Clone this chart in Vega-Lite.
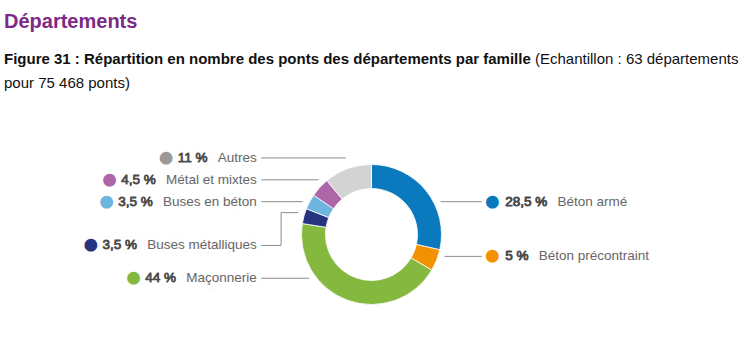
{
  "$schema": "https://vega.github.io/schema/vega-lite/v6.json",
  "background": "white",
  "padding": {"left": 4, "top": 12, "right": 0, "bottom": 0},
  "config": {"view": {"stroke": null}, "font": "Liberation Sans"},
  "title": {"text": "Départements", "anchor": "start", "fontSize": 20, "fontWeight": "bold", "color": "#7d2a86", "font": "Liberation Sans", "offset": 20},
  "datasets": {
    "familles": [
      {"famille": "Béton armé", "part": 28.5, "ordre": 1},
      {"famille": "Béton précontraint", "part": 5, "ordre": 2},
      {"famille": "Maçonnerie", "part": 44, "ordre": 3},
      {"famille": "Buses métalliques", "part": 3.5, "ordre": 4},
      {"famille": "Buses en béton", "part": 3.5, "ordre": 5},
      {"famille": "Métal et mixtes", "part": 4.5, "ordre": 6},
      {"famille": "Autres", "part": 11, "ordre": 7}
    ]
  },
  "spacing": 55,
  "vconcat": [
    {
      "spacing": 4,
      "hconcat": [
        {
          "width": 1, "height": 1,
          "data": {"values": []},
          "mark": "text",
          "encoding": {},
          "title": {"text": "Figure 31 : Répartition en nombre des ponts des départements par famille", "subtitle": "pour 75 468 ponts)", "anchor": "start", "font": "Liberation Sans", "fontSize": 15, "fontWeight": "bold", "color": "#111111", "subtitleFont": "Liberation Sans", "subtitleFontSize": 15, "subtitleColor": "#111111", "subtitlePadding": 9, "offset": 0}
        },
        {
          "width": 1, "height": 1,
          "data": {"values": []},
          "mark": "text",
          "encoding": {},
          "title": {"text": "(Echantillon : 63 départements", "subtitle": " ", "anchor": "start", "font": "Liberation Sans", "fontSize": 15, "fontWeight": "normal", "color": "#111111", "subtitleFont": "Liberation Sans", "subtitleFontSize": 15, "subtitleColor": "#111111", "subtitlePadding": 9, "offset": 0}
        }
      ]
    },
    {
      "width": 735,
      "height": 175,
      "data": {"name": "familles"},
      "transform": [
        {"calculate": "replace(format(datum.part, '.1~f'), '.', ',') + '\u00a0%'", "as": "pct"},
        {"calculate": "datum.pct + '\u00a0\u00a0\u2009' + datum.famille", "as": "texte"},
        {"calculate": "'●\u00a0\u00a0' + datum.texte", "as": "texte_point"}
      ],
      "layer": [
        {
          "transform": [{"filter": "datum.ordre >= 3 && datum.famille != 'Buses métalliques'"}],
          "mark": {"type": "rule", "color": "#8c8c8c", "strokeWidth": 1},
          "encoding": {
            "x": {"datum": -0.3, "type": "quantitative", "scale": {"domain": [-1, 1], "nice": false, "zero": false}, "axis": null},
            "x2": {"datum": -0.07},
            "y": {"field": "famille", "type": "nominal", "scale": {"type": "point", "domain": ["Autres", "g1", "Métal et mixtes", "g3", "Buses en béton", "g5", "g6", "g7", "Buses métalliques", "g9", "g10", "Maçonnerie", "g12", "g13", "g14"], "padding": 1}, "axis": null}
          }
        },
        {
          "transform": [{"filter": "datum.famille == 'Buses métalliques'"}],
          "mark": {"type": "rule", "color": "#8c8c8c", "strokeWidth": 1},
          "encoding": {
            "x": {"datum": -0.3, "type": "quantitative", "scale": {"domain": [-1, 1], "nice": false, "zero": false}, "axis": null},
            "x2": {"datum": -0.246},
            "y": {"field": "famille", "type": "nominal", "scale": {"type": "point", "domain": ["Autres", "g1", "Métal et mixtes", "g3", "Buses en béton", "g5", "g6", "g7", "Buses métalliques", "g9", "g10", "Maçonnerie", "g12", "g13", "g14"], "padding": 1}, "axis": null}
          }
        },
        {
          "transform": [{"filter": "datum.famille == 'Buses métalliques'"}],
          "mark": {"type": "rule", "color": "#8c8c8c", "strokeWidth": 1},
          "encoding": {
            "x": {"datum": -0.246, "type": "quantitative", "scale": {"domain": [-1, 1], "nice": false, "zero": false}, "axis": null},
            "y": {"field": "famille", "type": "nominal", "scale": {"type": "point", "domain": ["Autres", "g1", "Métal et mixtes", "g3", "Buses en béton", "g5", "g6", "g7", "Buses métalliques", "g9", "g10", "Maçonnerie", "g12", "g13", "g14"], "padding": 1}, "axis": null},
            "y2": {"datum": "g5"}
          }
        },
        {
          "transform": [{"filter": "datum.famille == 'Buses métalliques'"}],
          "mark": {"type": "rule", "color": "#8c8c8c", "strokeWidth": 1},
          "encoding": {
            "x": {"datum": -0.246, "type": "quantitative", "scale": {"domain": [-1, 1], "nice": false, "zero": false}, "axis": null},
            "x2": {"datum": -0.07},
            "y": {"datum": "g5", "type": "nominal", "scale": {"type": "point", "domain": ["Autres", "g1", "Métal et mixtes", "g3", "Buses en béton", "g5", "g6", "g7", "Buses métalliques", "g9", "g10", "Maçonnerie", "g12", "g13", "g14"], "padding": 1}, "axis": null}
          }
        },
        {
          "transform": [{"filter": "datum.ordre <= 2"}],
          "mark": {"type": "rule", "color": "#8c8c8c", "strokeWidth": 1},
          "encoding": {
            "x": {"datum": 0.1, "type": "quantitative", "scale": {"domain": [-1, 1], "nice": false, "zero": false}, "axis": null},
            "x2": {"datum": 0.3},
            "y": {"field": "famille", "type": "nominal", "scale": {"type": "point", "domain": ["d0", "d1", "d2", "d3", "Béton armé", "d5", "d6", "d7", "d8", "Béton précontraint", "d10", "d11", "d12", "d13", "d14"], "padding": 1}, "axis": null}
          }
        },
        {
          "mark": {"type": "arc", "innerRadius": 0, "outerRadius": 76, "fill": "white", "stroke": "white", "strokeWidth": 1},
          "encoding": {
            "theta": {"field": "part", "type": "quantitative", "stack": true},
            "order": {"field": "ordre", "type": "quantitative"}
          }
        },
        {
          "mark": {"type": "arc", "innerRadius": 46, "outerRadius": 70, "stroke": "white", "strokeWidth": 0.8},
          "encoding": {
            "theta": {"field": "part", "type": "quantitative", "stack": true},
            "order": {"field": "ordre", "type": "quantitative"},
            "color": {"field": "famille", "type": "nominal", "scale": {"domain": ["Béton armé", "Béton précontraint", "Maçonnerie", "Buses métalliques", "Buses en béton", "Métal et mixtes", "Autres"], "range": ["#0a79bd", "#f39200", "#84b83e", "#263480", "#6cb5de", "#ad66a8", "#d3d3d3"]}, "legend": null}
          }
        },
        {
          "transform": [{"filter": "datum.ordre >= 3"}],
          "mark": {"type": "text", "align": "right", "baseline": "middle", "dx": -4.5, "fontSize": 13.5, "font": "Liberation Sans", "strokeWidth": 7, "strokeJoin": "round"},
          "encoding": {
            "x": {"datum": -0.3, "type": "quantitative", "scale": {"domain": [-1, 1], "nice": false, "zero": false}, "axis": null},
            "y": {"field": "famille", "type": "nominal", "scale": {"type": "point", "domain": ["Autres", "g1", "Métal et mixtes", "g3", "Buses en béton", "g5", "g6", "g7", "Buses métalliques", "g9", "g10", "Maçonnerie", "g12", "g13", "g14"], "padding": 1}, "axis": null},
            "text": {"field": "texte_point"},
            "color": {"field": "famille", "type": "nominal", "scale": {"domain": ["Béton armé", "Béton précontraint", "Maçonnerie", "Buses métalliques", "Buses en béton", "Métal et mixtes", "Autres"], "range": ["#0a79bd", "#f39200", "#84b83e", "#263480", "#6cb5de", "#ad66a8", "#9a9a9a"]}, "legend": null},
            "stroke": {"field": "famille", "type": "nominal", "scale": {"domain": ["Béton armé", "Béton précontraint", "Maçonnerie", "Buses métalliques", "Buses en béton", "Métal et mixtes", "Autres"], "range": ["#0a79bd", "#f39200", "#84b83e", "#263480", "#6cb5de", "#ad66a8", "#9a9a9a"]}, "legend": null}
          }
        },
        {
          "transform": [{"filter": "datum.ordre >= 3"}],
          "mark": {"type": "text", "align": "right", "baseline": "middle", "dx": -4.5, "fontSize": 13.5, "font": "Liberation Sans", "fill": "white", "stroke": "white", "strokeWidth": 8, "strokeJoin": "round"},
          "encoding": {
            "x": {"datum": -0.3, "type": "quantitative", "scale": {"domain": [-1, 1], "nice": false, "zero": false}, "axis": null},
            "y": {"field": "famille", "type": "nominal", "scale": {"type": "point", "domain": ["Autres", "g1", "Métal et mixtes", "g3", "Buses en béton", "g5", "g6", "g7", "Buses métalliques", "g9", "g10", "Maçonnerie", "g12", "g13", "g14"], "padding": 1}, "axis": null},
            "text": {"field": "texte"}
          }
        },
        {
          "transform": [{"filter": "datum.ordre >= 3"}],
          "mark": {"type": "text", "align": "right", "baseline": "middle", "dx": -4.5, "fontSize": 13.5, "font": "Liberation Sans", "fill": "#4a4a4a", "stroke": "#4a4a4a", "strokeWidth": 0.8, "strokeJoin": "round"},
          "encoding": {
            "x": {"datum": -0.3, "type": "quantitative", "scale": {"domain": [-1, 1], "nice": false, "zero": false}, "axis": null},
            "y": {"field": "famille", "type": "nominal", "scale": {"type": "point", "domain": ["Autres", "g1", "Métal et mixtes", "g3", "Buses en béton", "g5", "g6", "g7", "Buses métalliques", "g9", "g10", "Maçonnerie", "g12", "g13", "g14"], "padding": 1}, "axis": null},
            "text": {"field": "texte"}
          }
        },
        {
          "transform": [{"filter": "datum.ordre >= 3"}],
          "mark": {"type": "text", "align": "right", "baseline": "middle", "dx": -4.5, "fontSize": 13.5, "font": "Liberation Sans", "fill": "white", "stroke": "white", "strokeWidth": 2, "strokeJoin": "round"},
          "encoding": {
            "x": {"datum": -0.3, "type": "quantitative", "scale": {"domain": [-1, 1], "nice": false, "zero": false}, "axis": null},
            "y": {"field": "famille", "type": "nominal", "scale": {"type": "point", "domain": ["Autres", "g1", "Métal et mixtes", "g3", "Buses en béton", "g5", "g6", "g7", "Buses métalliques", "g9", "g10", "Maçonnerie", "g12", "g13", "g14"], "padding": 1}, "axis": null},
            "text": {"field": "famille"}
          }
        },
        {
          "transform": [{"filter": "datum.ordre >= 3"}],
          "mark": {"type": "text", "align": "right", "baseline": "middle", "dx": -4.5, "fontSize": 13.5, "font": "Liberation Sans", "fill": "#666666"},
          "encoding": {
            "x": {"datum": -0.3, "type": "quantitative", "scale": {"domain": [-1, 1], "nice": false, "zero": false}, "axis": null},
            "y": {"field": "famille", "type": "nominal", "scale": {"type": "point", "domain": ["Autres", "g1", "Métal et mixtes", "g3", "Buses en béton", "g5", "g6", "g7", "Buses métalliques", "g9", "g10", "Maçonnerie", "g12", "g13", "g14"], "padding": 1}, "axis": null},
            "text": {"field": "famille"}
          }
        },
        {
          "transform": [{"filter": "datum.ordre <= 2"}],
          "mark": {"type": "text", "align": "center", "baseline": "middle", "dx": 10.5, "fontSize": 13.5, "font": "Liberation Sans", "text": "●", "strokeWidth": 7, "strokeJoin": "round"},
          "encoding": {
            "x": {"datum": 0.3, "type": "quantitative", "scale": {"domain": [-1, 1], "nice": false, "zero": false}, "axis": null},
            "y": {"field": "famille", "type": "nominal", "scale": {"type": "point", "domain": ["d0", "d1", "d2", "d3", "Béton armé", "d5", "d6", "d7", "d8", "Béton précontraint", "d10", "d11", "d12", "d13", "d14"], "padding": 1}, "axis": null},
            "color": {"field": "famille", "type": "nominal", "scale": {"domain": ["Béton armé", "Béton précontraint", "Maçonnerie", "Buses métalliques", "Buses en béton", "Métal et mixtes", "Autres"], "range": ["#0a79bd", "#f39200", "#84b83e", "#263480", "#6cb5de", "#ad66a8", "#9a9a9a"]}, "legend": null},
            "stroke": {"field": "famille", "type": "nominal", "scale": {"domain": ["Béton armé", "Béton précontraint", "Maçonnerie", "Buses métalliques", "Buses en béton", "Métal et mixtes", "Autres"], "range": ["#0a79bd", "#f39200", "#84b83e", "#263480", "#6cb5de", "#ad66a8", "#9a9a9a"]}, "legend": null}
          }
        },
        {
          "transform": [{"filter": "datum.ordre <= 2"}],
          "mark": {"type": "text", "align": "left", "baseline": "middle", "dx": 23.5, "fontSize": 13.5, "font": "Liberation Sans", "fill": "#666666"},
          "encoding": {
            "x": {"datum": 0.3, "type": "quantitative", "scale": {"domain": [-1, 1], "nice": false, "zero": false}, "axis": null},
            "y": {"field": "famille", "type": "nominal", "scale": {"type": "point", "domain": ["d0", "d1", "d2", "d3", "Béton armé", "d5", "d6", "d7", "d8", "Béton précontraint", "d10", "d11", "d12", "d13", "d14"], "padding": 1}, "axis": null},
            "text": {"field": "texte"}
          }
        },
        {
          "transform": [{"filter": "datum.ordre <= 2"}],
          "mark": {"type": "text", "align": "left", "baseline": "middle", "dx": 23.5, "fontSize": 13.5, "font": "Liberation Sans", "fill": "#4a4a4a", "stroke": "#4a4a4a", "strokeWidth": 0.8, "strokeJoin": "round"},
          "encoding": {
            "x": {"datum": 0.3, "type": "quantitative", "scale": {"domain": [-1, 1], "nice": false, "zero": false}, "axis": null},
            "y": {"field": "famille", "type": "nominal", "scale": {"type": "point", "domain": ["d0", "d1", "d2", "d3", "Béton armé", "d5", "d6", "d7", "d8", "Béton précontraint", "d10", "d11", "d12", "d13", "d14"], "padding": 1}, "axis": null},
            "text": {"field": "pct"}
          }
        }
      ],
      "resolve": {"scale": {"y": "independent", "color": "independent", "stroke": "independent"}}
    }
  ]
}
